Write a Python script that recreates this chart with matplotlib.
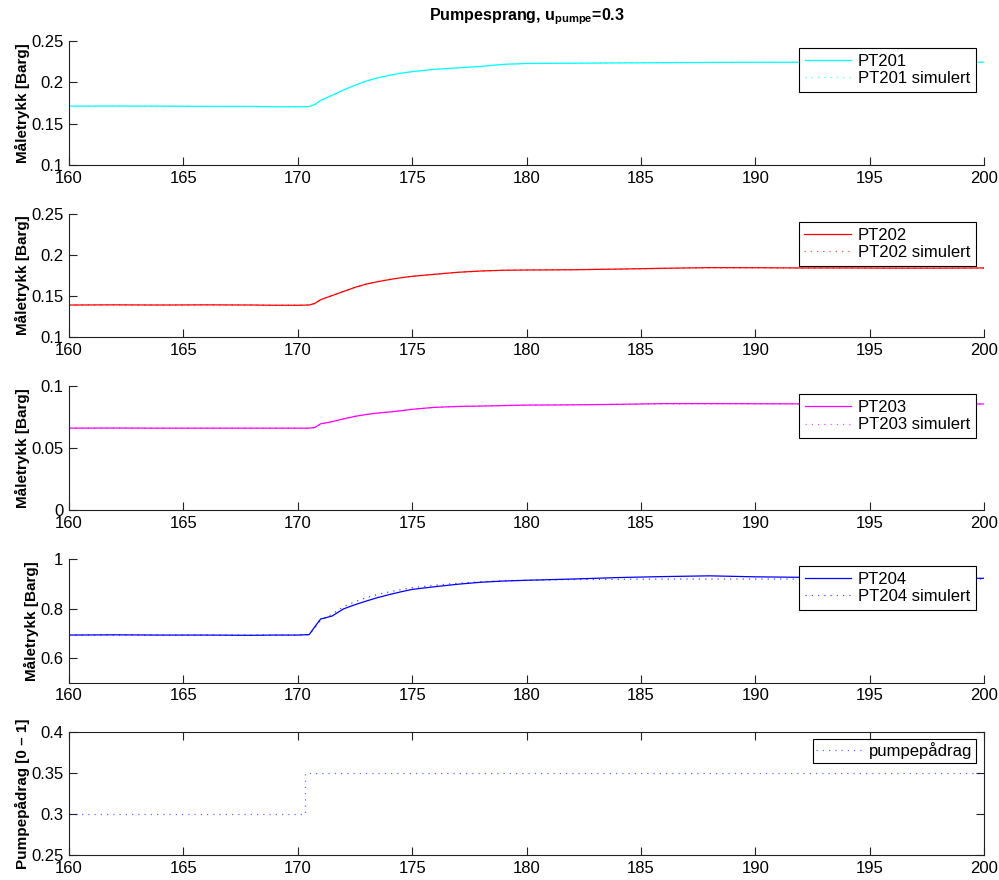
import matplotlib
matplotlib.use('Agg')
import matplotlib.pyplot as plt
from matplotlib.ticker import FormatStrFormatter

plt.rcParams['font.family'] = ['Liberation Sans', 'DejaVu Sans']
plt.rcParams['mathtext.fontset'] = 'custom'
plt.rcParams['mathtext.rm'] = 'Liberation Sans'
plt.rcParams['mathtext.bf'] = 'Liberation Sans:bold'

# tidsakse for trykkmålingene [s]
t = [160, 162, 164, 166, 168, 169, 170, 170.5, 170.75, 171, 171.5, 172, 172.5,
     173, 173.5, 174, 174.5, 175, 176, 177, 178, 179, 180, 182, 184, 186, 188,
     190, 192, 194, 196, 198, 200]

pt201 = [0.171, 0.1712, 0.171, 0.1707, 0.1707, 0.1703, 0.1703, 0.1705, 0.173, 0.178,
         0.184, 0.1905, 0.1962, 0.2014, 0.2052, 0.2082, 0.2107, 0.2127, 0.2155, 0.2172,
         0.219, 0.2215, 0.2225, 0.2228, 0.2232, 0.2235, 0.2238, 0.224, 0.224, 0.2238,
         0.224, 0.224, 0.224]
pt201_sim = [0.171, 0.1711, 0.171, 0.1708, 0.1707, 0.1704, 0.1703, 0.1705, 0.1728, 0.1775,
             0.1838, 0.1903, 0.196, 0.2012, 0.2051, 0.2082, 0.2106, 0.2126, 0.2154, 0.2173,
             0.2192, 0.2213, 0.2224, 0.2228, 0.2232, 0.2234, 0.2237, 0.2239, 0.2239, 0.2239,
             0.2239, 0.2239, 0.2239]

pt202 = [0.139, 0.1392, 0.139, 0.1392, 0.139, 0.1387, 0.1387, 0.139, 0.141, 0.1455,
         0.1505, 0.1555, 0.1605, 0.1645, 0.1675, 0.170, 0.1722, 0.174, 0.1765, 0.1789,
         0.1805, 0.1814, 0.1817, 0.182, 0.1828, 0.1838, 0.1846, 0.1845, 0.1842, 0.1842,
         0.184, 0.184, 0.1842]
pt202_sim = [0.139, 0.1391, 0.139, 0.1391, 0.139, 0.1388, 0.1388, 0.139, 0.1408, 0.1452,
             0.1503, 0.1556, 0.1607, 0.1647, 0.1677, 0.1702, 0.1723, 0.1741, 0.1766, 0.1788,
             0.1804, 0.1813, 0.1817, 0.1821, 0.1828, 0.1836, 0.1842, 0.1842, 0.1841, 0.1841,
             0.1841, 0.1841, 0.1841]

pt203 = [0.066, 0.0661, 0.066, 0.066, 0.066, 0.066, 0.066, 0.066, 0.0665, 0.0695,
         0.0712, 0.0735, 0.0755, 0.077, 0.0782, 0.079, 0.080, 0.0812, 0.0828, 0.0835,
         0.0838, 0.0842, 0.0846, 0.0848, 0.0852, 0.0858, 0.0858, 0.0857, 0.0856, 0.0856,
         0.0857, 0.0856, 0.0855]
pt203_sim = [0.066, 0.066, 0.066, 0.066, 0.066, 0.066, 0.066, 0.066, 0.0664, 0.0693,
             0.0713, 0.0736, 0.0756, 0.0771, 0.0783, 0.0792, 0.0802, 0.0813, 0.0827, 0.0834,
             0.0839, 0.0843, 0.0846, 0.0849, 0.0852, 0.0855, 0.0856, 0.0856, 0.0856, 0.0856,
             0.0856, 0.0856, 0.0856]

pt204 = [0.693, 0.694, 0.693, 0.693, 0.692, 0.693, 0.693, 0.695, 0.727, 0.758,
         0.770, 0.799, 0.816, 0.831, 0.845, 0.857, 0.868, 0.878, 0.889, 0.899,
         0.907, 0.912, 0.915, 0.920, 0.926, 0.930, 0.933, 0.929, 0.927, 0.925,
         0.924, 0.923, 0.923]
pt204_sim = [0.693, 0.693, 0.693, 0.693, 0.693, 0.693, 0.693, 0.694, 0.722, 0.752,
             0.778, 0.808, 0.828, 0.845, 0.858, 0.868, 0.877, 0.885, 0.895, 0.903,
             0.909, 0.913, 0.915, 0.918, 0.919, 0.920, 0.920, 0.920, 0.920, 0.920,
             0.920, 0.920, 0.920]

# pumpepådrag, sprang fra 0.3 til 0.35
t_u = [160, 170.3, 170.3, 200]
u_pumpe = [0.3, 0.3, 0.35, 0.35]

xticks = [160, 165, 170, 175, 180, 185, 190, 195, 200]

W, H = 999, 880
fig = plt.figure(figsize=(W / 100, H / 100), dpi=100)

# akseposisjoner i piksler: (topp, bunn)
rows = [(40.7, 165), (214, 337), (386, 510), (559.3, 682.7), (732, 855)]
left, right = 69, 984

# glisne prikker som i matlab sin ':'
DOTS = (0, (1, 4))


def make_ax(top, bottom, box=False):
    ax = fig.add_axes([left / W, 1 - bottom / H, (right - left) / W, (bottom - top) / H])
    ax.set_xlim(160, 200)
    ax.set_xticks(xticks)
    ax.tick_params(direction='in', length=6, width=0.8, labelsize=12, pad=4,
                   top=box, right=box, colors='#222222', labelcolor='black')
    for s in ['top', 'right']:
        ax.spines[s].set_visible(box)
    for s in ax.spines.values():
        s.set_linewidth(0.8)
        s.set_color('#222222')
    ax.yaxis.set_major_formatter(FormatStrFormatter('%g'))
    return ax


def add_legend(ax, top_px, borderpad=0.35):
    leg = ax.legend(loc='upper right', bbox_to_anchor=(976 / W, 1 - top_px / H),
                    bbox_transform=fig.transFigure, borderaxespad=0, fontsize=12,
                    fancybox=False, framealpha=1, edgecolor='black', handlelength=2.8,
                    handletextpad=0.4, labelspacing=0.15, borderpad=borderpad)
    leg.get_frame().set_linewidth(0.8)
    return leg


series = [
    (pt201, pt201_sim, '#00FFFF', 'PT201', (0.1, 0.25), [0.1, 0.15, 0.2, 0.25], 48),
    (pt202, pt202_sim, '#FF0000', 'PT202', (0.1, 0.25), [0.1, 0.15, 0.2, 0.25], 222),
    (pt203, pt203_sim, '#FF00FF', 'PT203', (0, 0.1), [0, 0.05, 0.1], 394),
    (pt204, pt204_sim, '#0000FF', 'PT204', (0.5, 1), [0.6, 0.8, 1], 566),
]

for i, (y, y_sim, c, name, ylim, yticks, leg_top) in enumerate(series):
    ax = make_ax(*rows[i])
    ax.plot(t, y, color=c, linewidth=0.9, label=name)
    ax.plot(t, y_sim, color=c, linestyle=DOTS, linewidth=0.9, alpha=0.7,
            label=name + ' simulert')
    ax.set_ylim(*ylim)
    ax.set_yticks(yticks)
    ax.set_ylabel('Måletrykk [Barg]', fontsize=11, fontweight='bold', labelpad=1)
    add_legend(ax, leg_top)
    if i == 0:
        ax.set_title(r'Pumpesprang, u$_{\mathbf{pumpe}}$=0.3', fontsize=11.5,
                     fontweight='bold', pad=15)

# nederste plott: pådrag til pumpa
ax = make_ax(*rows[4], box=True)
ax.plot(t_u, u_pumpe, color='#0000FF', linestyle=DOTS, linewidth=0.9, alpha=0.6,
        label='pumpepådrag')
ax.set_ylim(0.25, 0.4)
ax.set_yticks([0.25, 0.3, 0.35, 0.4])
ax.set_ylabel('Pumpepådrag [0 – 1]', fontsize=11, fontweight='bold', labelpad=1)
add_legend(ax, 739, borderpad=0.2)

fig.savefig('out.png', dpi=100)
